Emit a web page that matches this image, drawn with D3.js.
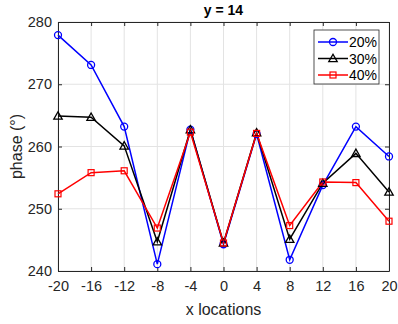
<!DOCTYPE html>
<html>
<head>
<meta charset="utf-8">
<script src="https://cdn.jsdelivr.net/npm/d3@7"></script>
<style>
  body { margin: 0; background: #fff; }
  svg { font-family: "Liberation Sans", Arial, sans-serif; }
</style>
</head>
<body>
<div id="chart"></div>
<script>
const xLocations = [-20, -16, -12, -8, -4, 0, 4, 8, 12, 16, 20];
const phase20 = [277.9, 273.1, 263.2, 241.1, 262.7, 244.3, 262.0, 241.8, 253.8, 263.2, 258.4];
const phase30 = [264.9, 264.7, 260.1, 244.7, 262.7, 244.5, 262.2, 245.1, 254.1, 258.9, 252.7];
const phase40 = [252.4, 255.8, 256.1, 246.9, 262.3, 244.5, 262.1, 247.3, 254.3, 254.2, 248.0];
const seriesNames = ['20%', '30%', '40%'];
const colors = ['#0000ff', '#000000', '#ff0000'];
const xTicks = [-20, -16, -12, -8, -4, 0, 4, 8, 12, 16, 20];
const yTicks = [240, 250, 260, 270, 280];

const width = 398, height = 324;
const margin = { top: 22, right: 9, bottom: 53, left: 58 };
const w = width - margin.left - margin.right;
const h = height - margin.top - margin.bottom;

const svg = d3.select('#chart').append('svg')
  .attr('width', width)
  .attr('height', height);

const g = svg.append('g')
  .attr('transform', `translate(${margin.left},${margin.top})`);

const x = d3.scaleLinear().domain([-20, 20]).range([0, w]);
const y = d3.scaleLinear().domain([240, 280]).range([h, 0]);

// grid
g.append('g').selectAll('line').data(xTicks).enter().append('line')
  .attr('x1', d => x(d)).attr('x2', d => x(d))
  .attr('y1', 0).attr('y2', h)
  .attr('stroke', '#e3e3e3').attr('stroke-width', 1);
g.append('g').selectAll('line').data(yTicks).enter().append('line')
  .attr('y1', d => y(d)).attr('y2', d => y(d))
  .attr('x1', 0).attr('x2', w)
  .attr('stroke', '#e3e3e3').attr('stroke-width', 1);

// axes (ticks point inward, MATLAB style), plain hyphen for negatives
const fmt = d => String(d);
const xAxis = g.append('g')
  .attr('transform', `translate(0,${h})`)
  .call(d3.axisBottom(x).tickValues(xTicks).tickFormat(fmt).tickSizeInner(-4).tickSizeOuter(0).tickPadding(10));
const yAxis = g.append('g')
  .call(d3.axisLeft(y).tickValues(yTicks).tickFormat(fmt).tickSizeInner(-4).tickSizeOuter(0).tickPadding(6));
const xTop = g.append('g')
  .call(d3.axisTop(x).tickValues(xTicks).tickSizeInner(-4).tickSizeOuter(0).tickFormat(''));
const yRight = g.append('g')
  .attr('transform', `translate(${w},0)`)
  .call(d3.axisRight(y).tickValues(yTicks).tickSizeInner(-4).tickSizeOuter(0).tickFormat(''));

[xAxis, yAxis, xTop, yRight].forEach(a => {
  a.selectAll('path').attr('stroke', '#262626');
  a.selectAll('line').attr('stroke', '#262626');
  a.selectAll('text').attr('fill', '#262626').style('font-size', '14.5px');
});

// lines and markers
const series = [phase20, phase30, phase40];
const line = d3.line().x((d, i) => x(xLocations[i])).y(d => y(d));

series.forEach((vals, s) => {
  g.append('path')
    .datum(vals)
    .attr('fill', 'none')
    .attr('stroke', colors[s])
    .attr('stroke-width', 1.5)
    .attr('d', line);
});

function marker(sel, s, cx, cy) {
  if (s === 0) {
    sel.append('circle').attr('cx', cx).attr('cy', cy).attr('r', 3.5)
      .attr('fill', 'none').attr('stroke', colors[s]).attr('stroke-width', 1.3);
  } else if (s === 1) {
    const r = 4.2;
    sel.append('path')
      .attr('d', `M${cx},${cy - r}L${cx + r},${cy + r * 0.75}L${cx - r},${cy + r * 0.75}Z`)
      .attr('fill', 'none').attr('stroke', colors[s]).attr('stroke-width', 1.3);
  } else {
    sel.append('rect').attr('x', cx - 3).attr('y', cy - 3).attr('width', 6).attr('height', 6)
      .attr('fill', 'none').attr('stroke', colors[s]).attr('stroke-width', 1.2);
  }
}

series.forEach((vals, s) => {
  const mg = g.append('g');
  vals.forEach((v, i) => marker(mg, s, x(xLocations[i]), y(v)));
});

// title and labels
svg.append('text')
  .attr('x', margin.left + w / 2).attr('y', 15)
  .attr('text-anchor', 'middle')
  .style('font-size', '14px').style('font-weight', 'bold')
  .attr('fill', '#000')
  .text('y = 14');

svg.append('text')
  .attr('x', margin.left + w / 2).attr('y', 315)
  .attr('text-anchor', 'middle')
  .style('font-size', '16px')
  .attr('fill', '#262626')
  .text('x locations');

svg.append('text')
  .attr('transform', `translate(22,${margin.top + h / 2}) rotate(-90)`)
  .attr('text-anchor', 'middle')
  .style('font-size', '16px')
  .attr('fill', '#262626')
  .text('phase (°)');

// legend
const lg = svg.append('g').attr('transform', 'translate(314,30)');
lg.append('rect').attr('width', 65).attr('height', 54)
  .attr('fill', '#fff').attr('stroke', '#262626').attr('stroke-width', 0.8);
seriesNames.forEach((name, s) => {
  const yy = 12 + s * 16.5;
  lg.append('line').attr('x1', 4).attr('x2', 34).attr('y1', yy).attr('y2', yy)
    .attr('stroke', colors[s]).attr('stroke-width', 1.5);
  marker(lg, s, 19, yy);
  lg.append('text').attr('x', 35).attr('y', yy + 5)
    .style('font-size', '14px').attr('fill', '#000').text(name);
});
</script>
</body>
</html>
